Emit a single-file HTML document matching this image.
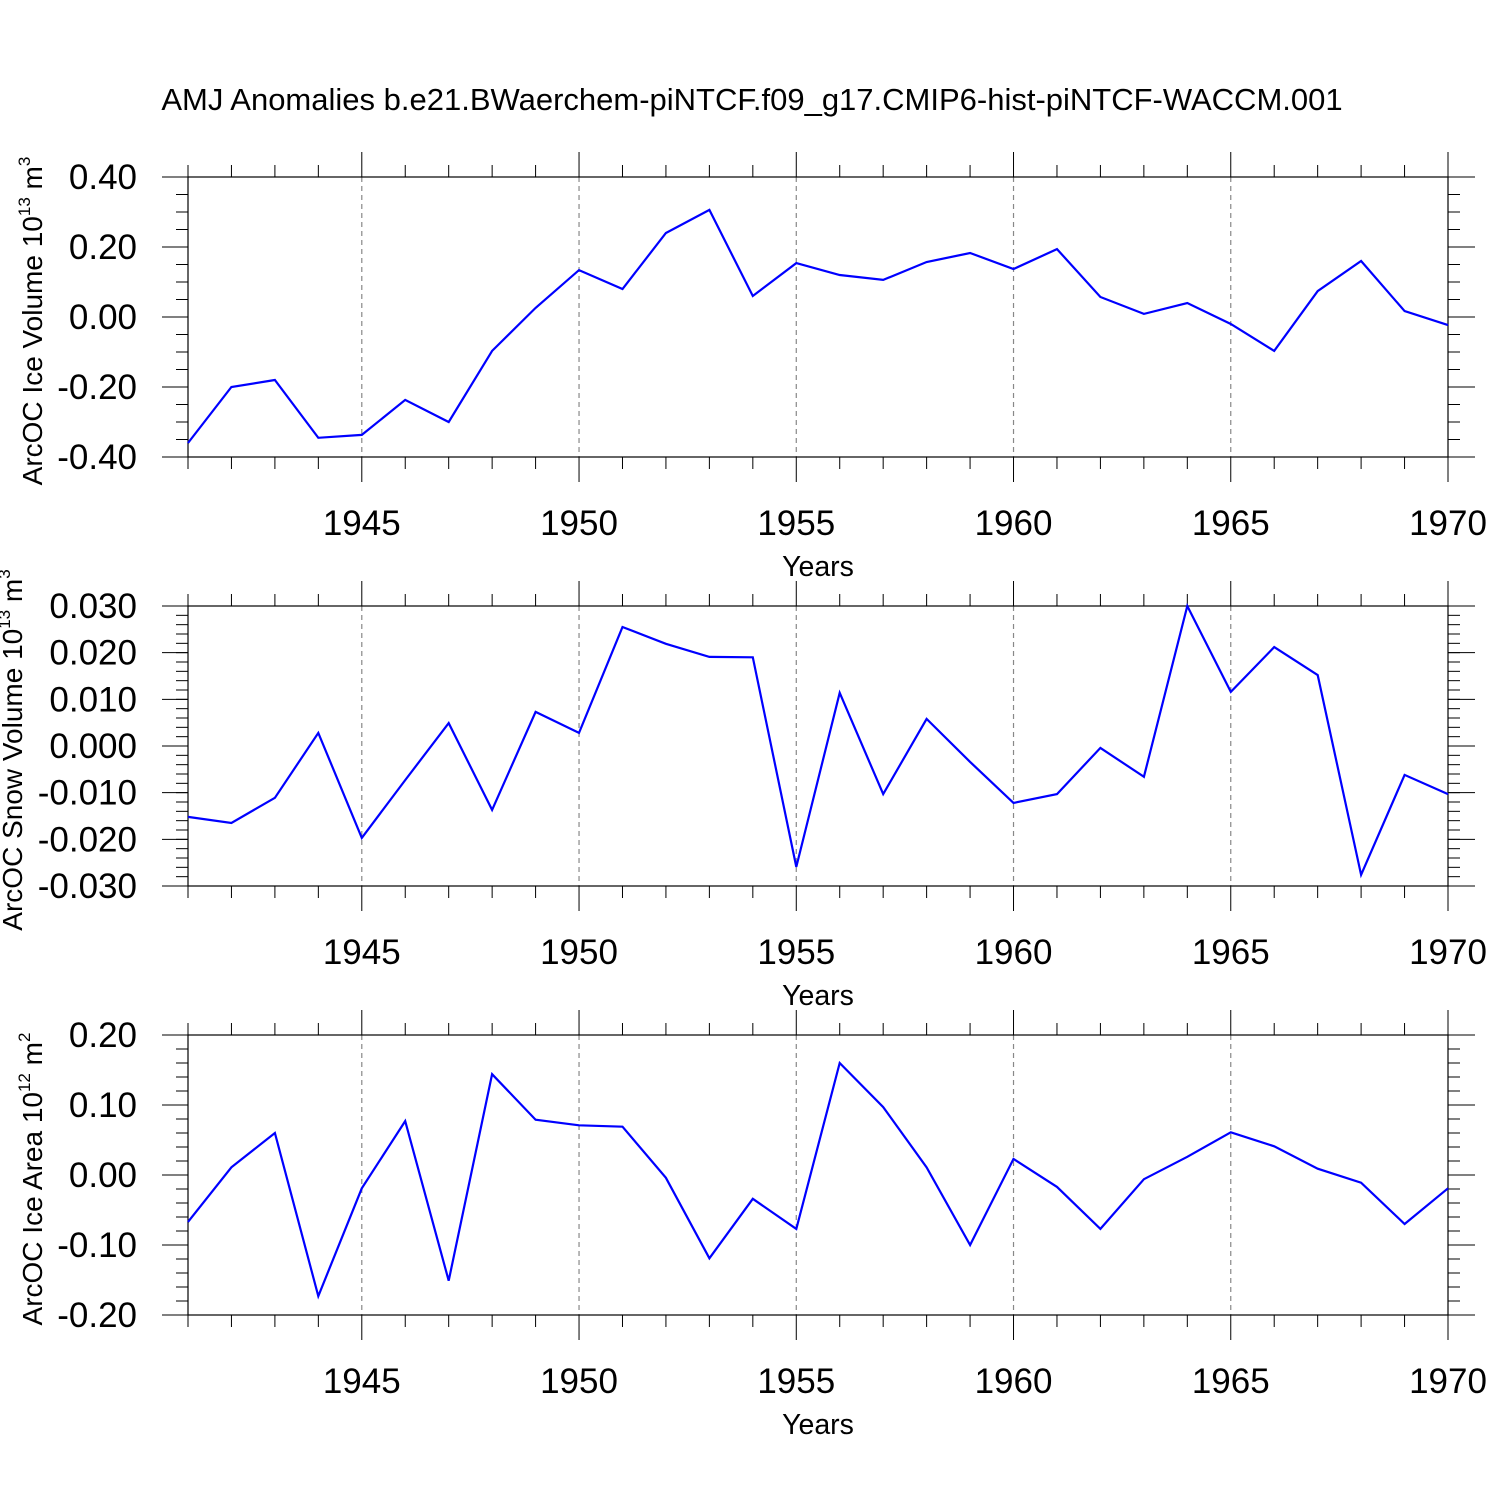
<!DOCTYPE html>
<html><head><meta charset="utf-8"><style>
html,body{margin:0;padding:0;background:#fff;width:1500px;height:1500px;overflow:hidden}
svg text{font-family:"Liberation Sans",Helvetica,sans-serif;fill:#000}
</style></head><body>
<svg id="chart" width="1500" height="1500" viewBox="0 0 1500 1500" xmlns="http://www.w3.org/2000/svg">
<rect width="1500" height="1500" fill="#fff"/>
<text x="752" y="110" font-size="31" text-anchor="middle">AMJ Anomalies b.e21.BWaerchem-piNTCF.f09_g17.CMIP6-hist-piNTCF-WACCM.001</text>
</svg>
<script>
const years = [1941,1942,1943,1944,1945,1946,1947,1948,1949,1950,1951,1952,1953,1954,1955,1956,1957,1958,1959,1960,1961,1962,1963,1964,1965,1966,1967,1968,1969,1970];
const iceVolume = [-0.36,-0.20,-0.18,-0.345,-0.337,-0.237,-0.30,-0.097,0.026,0.134,0.08,0.24,0.306,0.06,0.154,0.12,0.106,0.157,0.183,0.137,0.194,0.057,0.009,0.04,-0.02,-0.097,0.074,0.16,0.017,-0.023];
const snowVolume = [-0.0152,-0.0165,-0.0111,0.0028,-0.0197,-0.0073,0.0049,-0.0137,0.0073,0.0028,0.0255,0.0219,0.0191,0.019,-0.0259,0.0114,-0.0103,0.0058,-0.0034,-0.0122,-0.0103,-0.0004,-0.0066,0.030,0.0116,0.0212,0.0152,-0.0276,-0.0062,-0.0103];
const iceArea = [-0.067,0.011,0.06,-0.173,-0.019,0.077,-0.151,0.144,0.079,0.071,0.069,-0.004,-0.119,-0.034,-0.077,0.16,0.097,0.011,-0.1,0.023,-0.017,-0.077,-0.006,0.026,0.061,0.041,0.009,-0.011,-0.07,-0.019];
const xTicks = [1945,1950,1955,1960,1965,1970];
const iceVolumeTicks = [0.4,0.2,0,-0.2,-0.4];
const snowVolumeTicks = [0.03,0.02,0.01,0,-0.01,-0.02,-0.03];
const iceAreaTicks = [0.2,0.1,0,-0.1,-0.2];

const svg = document.getElementById('chart');
const NS = 'http://www.w3.org/2000/svg';
function el(tag, attrs, parent){const e=document.createElementNS(NS,tag);for(const k in attrs)e.setAttribute(k,attrs[k]);(parent||svg).appendChild(e);return e;}
const X0=188,X1=1448;
const xs = y => X0 + (y-1941)/(1970-1941)*(X1-X0);

const panels = [
 {name:'ice-volume',top:177,bot:457,min:-0.4,max:0.4,data:iceVolume,ticks:iceVolumeTicks,dec:2,minor:0.05,tx:42,title:'ArcOC Ice Volume 10',sup:'13',unit:' m',usup:'3'},
 {name:'snow-volume',top:606,bot:886,min:-0.03,max:0.03,data:snowVolume,ticks:snowVolumeTicks,dec:3,minor:0.002,tx:22,title:'ArcOC Snow Volume 10',sup:'13',unit:' m',usup:'3'},
 {name:'ice-area',top:1035,bot:1315,min:-0.2,max:0.2,data:iceArea,ticks:iceAreaTicks,dec:2,minor:0.02,tx:42,title:'ArcOC Ice Area 10',sup:'12',unit:' m',usup:'2'}
];
panels.forEach(p=>{
  const g = el('g',{});
  
  
  const ys = v => p.bot - (v-p.min)/(p.max-p.min)*(p.bot-p.top);
  xTicks.slice(0,5).forEach(t=>{
    const l=el('line',{x1:xs(t),x2:xs(t),y1:p.top,y2:p.bot,stroke:'#888','stroke-width':1.2,'stroke-dasharray':'5,4'},g);
    
    
  });
  const fr = el('rect',{x:X0,y:p.top,width:X1-X0,height:p.bot-p.top,fill:'none',stroke:'#000','stroke-width':1.2},g);
  
  
  years.forEach(y=>{
    const major = xTicks.includes(y);
    const len = major?25:12;
    el('line',{x1:xs(y),x2:xs(y),y1:p.top-len,y2:p.top,stroke:'#000','stroke-width':1},g);
    el('line',{x1:xs(y),x2:xs(y),y1:p.bot,y2:p.bot+len,stroke:'#000','stroke-width':1},g);
  });
  const n = Math.round((p.max-p.min)/p.minor);
  for(let i=0;i<=n;i++){
    const v=p.min+i*p.minor, y=ys(v);
    el('line',{x1:X0-12,x2:X0,y1:y,y2:y,stroke:'#000','stroke-width':1},g);
    el('line',{x1:X1,x2:X1+12,y1:y,y2:y,stroke:'#000','stroke-width':1},g);
  }
  p.ticks.forEach(v=>{
    const y=ys(v);
    el('line',{x1:X0-26,x2:X0,y1:y,y2:y,stroke:'#000','stroke-width':1},g);
    el('line',{x1:X1,x2:X1+27,y1:y,y2:y,stroke:'#000','stroke-width':1},g);
    const t=el('text',{x:137,y:y+12,'font-size':35,'text-anchor':'end'},g);
    
    
    t.textContent=v.toFixed(p.dec).replace(/^-0\.0+$/,m=>m.slice(1));
  });
  xTicks.forEach(v=>{
    const t=el('text',{x:xs(v),y:p.bot+78,'font-size':35,'text-anchor':'middle'},g);
    
    
    t.textContent=v;
  });
  const xt=el('text',{x:(X0+X1)/2,y:p.bot+119,'font-size':28.5,'text-anchor':'middle'},g);
  
  
  xt.textContent='Years';
  const yt=el('text',{x:0,y:0,'font-size':28,'text-anchor':'middle',transform:`translate(${p.tx},${(p.top+p.bot)/2+4}) rotate(-90)`},g);
  
  
  const s1=el('tspan',{},yt); s1.textContent=p.title;
  const s2=el('tspan',{dy:-12,'font-size':17},yt); s2.textContent=p.sup;
  const s3=el('tspan',{dy:12},yt); s3.textContent=p.unit;
  const s4=el('tspan',{dy:-12,'font-size':17},yt); s4.textContent=p.usup;
  const pts = p.data.map((v,i)=>xs(years[i]).toFixed(1)+','+ys(v).toFixed(1)).join(' ');
  const line=el('polyline',{points:pts,fill:'none',stroke:'#0000ff','stroke-width':2.2,'stroke-linejoin':'miter'},g);
  
  
});
</script>
</body></html>
